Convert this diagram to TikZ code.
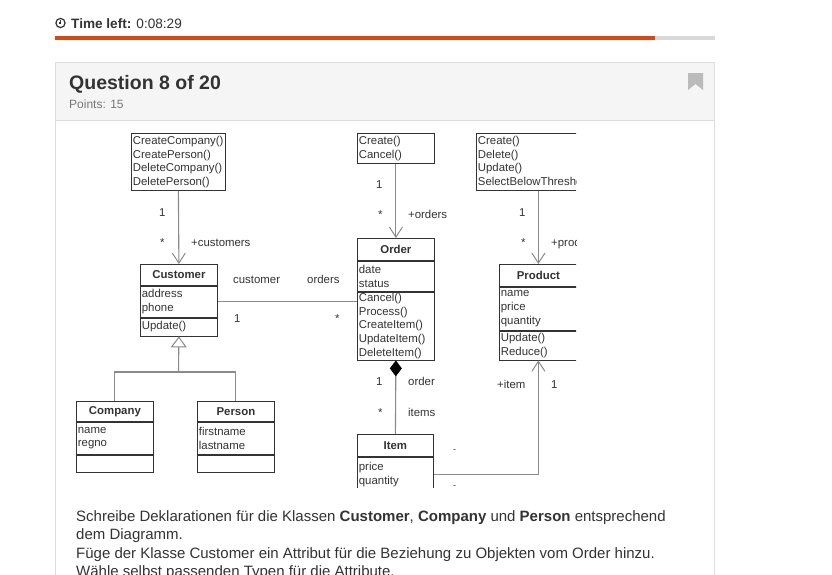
\documentclass[tikz,border=0pt]{standalone}
\usepackage{fontspec}
\setmainfont{Liberation Sans}
\usetikzlibrary{positioning,arrows.meta}

\definecolor{ink}{HTML}{333333}
\definecolor{wire}{HTML}{8A8A8A}
\definecolor{barorange}{HTML}{D84810}
\definecolor{bargrey}{HTML}{D9D9D9}
\definecolor{cardline}{HTML}{DDDDDD}
\definecolor{cardhead}{HTML}{F5F5F5}
\definecolor{muted}{HTML}{777777}
\definecolor{markgrey}{HTML}{BBBBBB}

\newcommand\umlfont{\fontsize{11.4}{13.7}\selectfont}

\begin{document}
\begin{tikzpicture}[
  x=1pt, y=-1pt,
  every node/.style={inner sep=0pt, text=ink},
  cls/.style={draw=ink, line width=0.8pt, rectangle, anchor=north west,
    align=left, inner xsep=1.5pt, inner ysep=0pt, text width=74pt, font=\umlfont},
  clsname/.style={cls, align=center, font=\umlfont\bfseries},
  conn/.style={draw=wire, line width=1.1pt},
  assoc/.style={conn, -{Straight Barb[length=10pt,width=13pt,line width=1pt]}},
  lbl/.style={anchor=base west, font=\umlfont, text=ink}
  ]

\useasboundingbox (0,0) rectangle (832,574);

% header with timer
\draw[ink, line width=1.2pt] (60.5,23) circle (4.6);
\draw[ink, line width=1.1pt] (60.5,20) -- (60.5,23) -- (58.5,23);
\node[anchor=base west, font=\fontsize{13.6}{15}\selectfont] (timer) at (71,28)
  {\textbf{Time left:} 0:08:29};
\fill[bargrey] (55,35.5) rectangle (715,39.5);
\fill[barorange] (55,35.5) rectangle (655,39.5);

% question card
\draw[cardline, fill=white] (55.5,62.5) rectangle (714.5,600);
\fill[cardhead] (56,63) rectangle (714,120);
\draw[cardline] (56,120.5) -- (714,120.5);
\node[anchor=base west, font=\fontsize{19.5}{22}\selectfont\bfseries] (title) at (69,89)
  {Question 8 of 20};
\node[anchor=base west, font=\fontsize{12}{14}\selectfont, text=muted] (points) at (69,108)
  {Points: 15};
\fill[markgrey] (688,73) -- (703,73) -- (703,90) -- (695.5,84) -- (688,90) -- cycle;

% class diagram
\begin{scope}
\clip (70,128) rectangle (576,487);

% operation boxes on top
\node[cls, text width=91pt, minimum height=57] (custops) at (131,133)
  {CreateCompany()\\CreatePerson()\\DeleteCompany()\\DeletePerson()};
\node[cls, minimum height=30] (ordops) at (357,133) {Create()\\Cancel()};
\node[cls, text width=121pt, minimum height=57] (prodops) at (476,133)
  {Create()\\Delete()\\Update()\\SelectBelowThreshold()};

% Customer
\node[clsname, minimum height=21] (cust) at (140,264) {Customer};
\node[cls, minimum height=31] (cust-a) at (cust.south west) {address\\phone};
\node[cls, minimum height=18] (cust-o) at (cust-a.south west) {Update()};

% Order
\node[clsname, minimum height=22] (ord) at (357,238) {Order};
\node[cls, minimum height=30] (ord-a) at (ord.south west) {date\\status};
\node[cls, minimum height=68] (ord-o) at (ord-a.south west)
  {Cancel()\\Process()\\CreateItem()\\UpdateItem()\\DeleteItem()};

% Product
\node[clsname, text width=75pt, minimum height=22] (prod) at (499,264) {Product};
\node[cls, text width=75pt, minimum height=43] (prod-a) at (prod.south west)
  {name\\price\\quantity};
\node[cls, text width=75pt, minimum height=29] (prod-o) at (prod-a.south west)
  {Update()\\Reduce()};

% Item
\node[clsname, text width=73pt, minimum height=22] (item) at (357,434) {Item};
\node[cls, text width=73pt, minimum height=34] (item-a) at (item.south west)
  {price\\quantity};

% Company and Person
\node[clsname, minimum height=20] (comp) at (76,401) {Company};
\node[cls, minimum height=32] (comp-a) at (comp.south west) {name\\regno};
\node[cls, minimum height=17] (comp-o) at (comp-a.south west) {};
\node[clsname, minimum height=20] (pers) at (197,401) {Person};
\node[cls, minimum height=32] (pers-a) at (pers.south west) {firstname\\lastname};
\node[cls, minimum height=17] (pers-o) at (pers-a.south west) {};

% connectors
\draw[assoc] (custops.south) -- (cust.north);
\draw[assoc] (ordops.south) -- (ord.north);
\draw[assoc] (prodops.south) -- (prod.north);
\draw[conn] (cust-a.east) -- (cust-a.east -| ord-o.west);
\coordinate (fork) at (178.5,372);
\draw[conn] (comp.north) |- (fork) -| (pers.north);
\draw[conn, -{Triangle[open, length=11pt, width=16pt, line width=1pt]}] (fork) -- (cust-o.south);
\draw[conn, {Diamond[length=16pt, width=12pt, color=black]}-] (ord-o.south) -- (item.north);
\draw[assoc] (item-a.east) -| (prod-o.south);

% role names and multiplicities
\node[lbl] (m-cust-1) at (159,216) {1};
\node[lbl] (m-cust-n) at (160,246) {*};
\node[lbl] (r-cust) at (191,246) {+customers};
\node[lbl] (m-ord-1) at (376,188) {1};
\node[lbl] (m-ord-n) at (378,218) {*};
\node[lbl] (r-ord) at (408,218) {+orders};
\node[lbl] (m-prod-1) at (519,216) {1};
\node[lbl] (m-prod-n) at (521,246) {*};
\node[lbl] (r-prod) at (551,246) {+products};
\node[lbl] (r-customer) at (233,283) {customer};
\node[lbl] (r-orders) at (307,283) {orders};
\node[lbl] (m-as-1) at (234,322) {1};
\node[lbl] (m-as-n) at (335,322) {*};
\node[lbl] (m-comp-1) at (376,385) {1};
\node[lbl] (r-order) at (408,385) {order};
\node[lbl] (m-comp-n) at (378,416) {*};
\node[lbl] (r-items) at (408,416) {items};
\node[lbl] (r-item) at (497,388) {+item};
\node[lbl] (m-item-1) at (551,388) {1};
\node[lbl, font=\fontsize{9}{10}\selectfont] (m-it-a) at (453,452) {-};
\node[lbl, font=\fontsize{9}{10}\selectfont] (m-it-b) at (453,488) {-};
\end{scope}

% task text
\node[anchor=north west, align=left, font=\fontsize{15}{18.6}\selectfont] (task) at (76,510)
  {Schreibe Deklarationen für die Klassen \textbf{Customer}, \textbf{Company} und \textbf{Person} entsprechend\\
   dem Diagramm.\\
   Füge der Klasse Customer ein Attribut für die Beziehung zu Objekten vom Order hinzu.\\
   Wähle selbst passenden Typen für die Attribute.};

\end{tikzpicture}
\end{document}
